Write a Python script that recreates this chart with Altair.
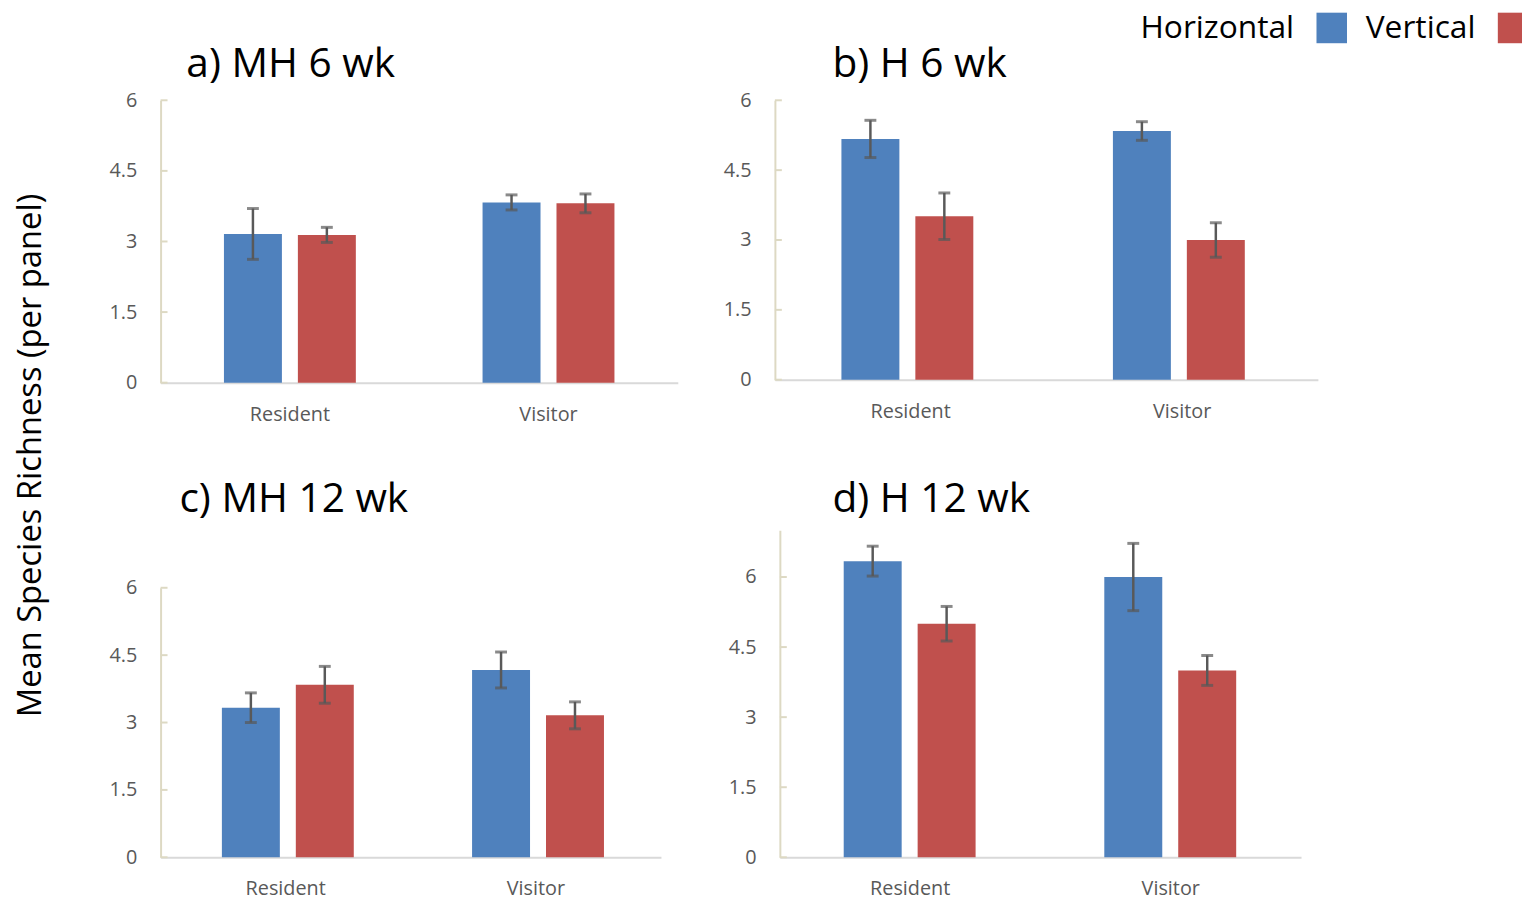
import altair as alt
import pandas as pd

panels = ["a) MH 6 wk", "b) H 6 wk", "c) MH 12 wk", "d) H 12 wk"]
categories = ["Resident", "Resident", "Visitor", "Visitor"]
series = ["Horizontal", "Vertical", "Horizontal", "Vertical"]
means_a = [3.16, 3.14, 3.83, 3.81]
err_a = [0.54, 0.16, 0.16, 0.20]
means_b = [5.17, 3.51, 5.34, 3.00]
err_b = [0.40, 0.50, 0.20, 0.37]
means_c = [3.33, 3.84, 4.17, 3.16]
err_c = [0.33, 0.41, 0.40, 0.30]
means_d = [6.34, 5.00, 6.00, 4.00]
err_d = [0.32, 0.37, 0.72, 0.32]
y_max = [6, 6, 6, 7]
tick_values = [0, 1.5, 3, 4.5, 6]
legend_labels = ["Horizontal", "Vertical"]
colors = ["#4F81BD", "#C0504D"]
y_title = "Mean Species Richness (per panel)"

FONT = "Open Sans"
ERR = "#595959"


def panel(title, means, errs, ymax, width, height, toff, tdx, yrange=None):
    df = pd.DataFrame({
        "category": categories,
        "series": series,
        "mean": means,
        "lo": [m - e for m, e in zip(means, errs)],
        "hi": [m + e for m, e in zip(means, errs)],
    })
    ticks_df = pd.DataFrame({"v": [t for t in tick_values if t <= ymax]})
    x = alt.X("category:N", title=None, sort=["Resident", "Visitor"],
              scale=alt.Scale(paddingInner=0.49, paddingOuter=0.245),
              axis=alt.Axis(labelAngle=0, ticks=False, domainColor="#D9D9D9",
                            domainWidth=2, labelFontSize=20, labelColor="#595959",
                            labelPadding=22, labelFont=FONT))
    xo = alt.XOffset("series:N", sort=legend_labels,
                     scale=alt.Scale(paddingInner=0.216, paddingOuter=0))
    if yrange is None:
        yscale = alt.Scale(domain=[0, ymax], nice=False, zero=True)
    else:
        yscale = alt.Scale(domain=[0, ymax], nice=False, zero=True, range=yrange)
    base = alt.Chart(df).encode(x=x, xOffset=xo)
    bars = base.mark_bar().encode(
        y=alt.Y("mean:Q", title=None, scale=yscale,
                axis=alt.Axis(values=tick_values, ticks=False, grid=False,
                              domainColor="#DDD9C3", domainWidth=2,
                              labelFontSize=20, labelColor="#595959",
                              labelPadding=24, labelFont=FONT, format=".1~f")),
        color=alt.Color("series:N", sort=legend_labels,
                        scale=alt.Scale(domain=legend_labels, range=colors),
                        legend=alt.Legend(title=None, orient="none", legendX=1166,
                                          legendY=-89, direction="horizontal",
                                          labelAlign="right",
                                          labelOffset={"expr": "-54"},
                                          symbolType="square", symbolSize=950,
                                          symbolStrokeWidth=0, labelFontSize=32,
                                          labelFont=FONT, labelColor="black",
                                          columnPadding=18, labelLimit=400)),
    )
    rule = base.mark_rule(color=ERR, strokeWidth=2.5).encode(
        y=alt.Y("lo:Q", title=None), y2="hi:Q")
    cap_hi = base.mark_tick(color=ERR, thickness=3, size=12).encode(y=alt.Y("hi:Q", title=None))
    cap_lo = base.mark_tick(color=ERR, thickness=3, size=12).encode(y=alt.Y("lo:Q", title=None))
    inticks = alt.Chart(ticks_df).mark_rule(color="#DDD9C3", strokeWidth=2).encode(
        y=alt.Y("v:Q", title=None), x=alt.value(0), x2=alt.value(7))
    return alt.layer(bars, rule, cap_hi, cap_lo, inticks).properties(
        width=width, height=height,
        title=alt.TitleParams(text=title, anchor="start", frame="group", dx=tdx,
                              offset=toff, fontSize=41, font=FONT,
                              fontWeight="normal", color="black"),
    )


pa = panel(panels[0], means_a, err_a, y_max[0], 522, 285, 5, 26)
pb = panel(panels[1], means_b, err_b, y_max[1], 548, 282, 5, 58)
pc = panel(panels[2], means_c, err_c, y_max[2], 505, 330, 9, 19, yrange=[330, 58])
pd_ = panel(panels[3], means_d, err_d, y_max[3], 526, 330, 9, 53)

row1 = alt.hconcat(pa, pb, spacing=45)
row2 = alt.hconcat(pc, pd_, spacing=67)

chart = alt.vconcat(row1, row2, spacing=56).properties(
    title=alt.TitleParams(text=y_title, orient="left", anchor="middle",
                          fontSize=33, font=FONT, fontWeight="normal",
                          color="black", offset=62),
    padding={"left": 6, "top": 0, "right": -7, "bottom": 0},
).configure_view(stroke=None)

chart.save("out.html", embed_options={"renderer": "svg", "actions": False})
